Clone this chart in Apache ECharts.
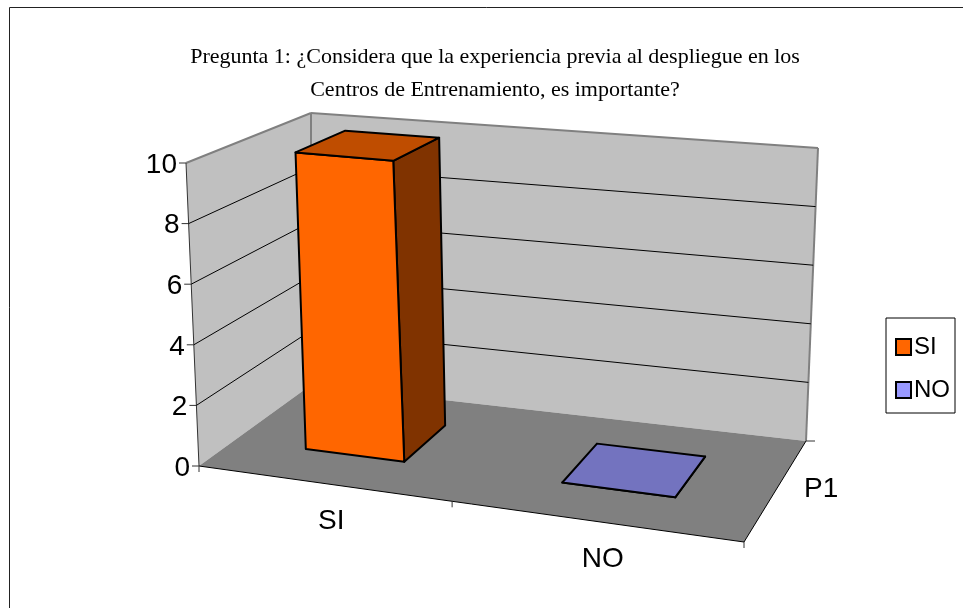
<!DOCTYPE html>
<html>
<head>
<meta charset="utf-8">
<title>Pregunta 1</title>
<style>
  html, body { margin: 0; padding: 0; background: #fff; }
  #chart { width: 963px; height: 608px; }
</style>
<script src="https://cdn.jsdelivr.net/npm/echarts@6/dist/echarts.min.js"></script>
</head>
<body>
<div id="chart"></div>
<script>
// datos
const chartTitle = 'Pregunta 1: ¿Considera que la experiencia previa al despliegue en los\nCentros de Entrenamiento, es importante?'
const categories = ['SI', 'NO']
const depthLabels = ['P1']
const siValues = [10]
const noValues = [0]
const valueTicks = [0, 2, 4, 6, 8, 10]

const labelFont = '28px "Liberation Sans"'

// esquinas de la caja 3D en pantalla: frente-izq, fondo-izq, fondo-der, frente-der
const floorCorners = [[199, 466], [311, 385], [806, 441], [744, 542]]
const topCorners = [[186, 163], [311, 113], [818, 148], [754, 217]]

// profundidad de las barras dentro de la caja
const barDepth = [0.3, 0.72]
const barShare = 0.4

// homografia del cuadrado unidad a un cuadrilatero
const quadPoint = (q, u, w) => {
  const [p0, p1, p2, p3] = [q[0], q[3], q[2], q[1]]
  const dx1 = p1[0] - p2[0]
  const dx2 = p3[0] - p2[0]
  const sx = p0[0] - p1[0] + p2[0] - p3[0]
  const dy1 = p1[1] - p2[1]
  const dy2 = p3[1] - p2[1]
  const sy = p0[1] - p1[1] + p2[1] - p3[1]
  const den = dx1 * dy2 - dx2 * dy1
  const g = (sx * dy2 - dx2 * sy) / den
  const h = (dx1 * sy - sx * dy1) / den
  const a = p1[0] - p0[0] + g * p1[0]
  const b = p3[0] - p0[0] + h * p3[0]
  const d = p1[1] - p0[1] + g * p1[1]
  const e = p3[1] - p0[1] + h * p3[1]
  const k = g * u + h * w + 1
  return [(a * u + b * w + p0[0]) / k, (d * u + e * w + p0[1]) / k]
}

// u: eje categorias, v: eje de valores, w: profundidad (todo 0..1)
const project = (u, v, w) => {
  const f = quadPoint(floorCorners, u, w)
  const t = quadPoint(topCorners, u, w)
  return [f[0] + (t[0] - f[0]) * v, f[1] + (t[1] - f[1]) * v]
}

const toUnit = (params, api, cat, value) => {
  const cs = params.coordSys
  const c = api.coord([cat, value])
  return [(c[0] - cs.x) / cs.width, (cs.y + cs.height - c[1]) / cs.height]
}

const poly = (points, style) => ({ type: 'polygon', shape: { points }, style })
const seg = (a, b, stroke, lineWidth) => ({
  type: 'line',
  shape: { x1: a[0], y1: a[1], x2: b[0], y2: b[1] },
  style: { stroke, lineWidth },
})
const label = (text, p, align) => ({
  type: 'text',
  style: { text, x: p[0], y: p[1], fill: '#000', font: labelFont, textAlign: align, textVerticalAlign: 'middle' },
})

// paredes y suelo
const renderBox = () => {
  const wallStyle = { fill: '#C0C0C0' }
  return {
    type: 'group',
    children: [
      poly([project(0, 0, 0), project(0, 1, 0), project(0, 1, 1), project(0, 0, 1)], wallStyle),
      poly([project(0, 0, 1), project(0, 1, 1), project(1, 1, 1), project(1, 0, 1)], wallStyle),
      poly([project(0, 0, 0), project(0, 0, 1), project(1, 0, 1), project(1, 0, 0)], { fill: '#808080' }),
      seg(project(0, 1, 0), project(0, 1, 1), '#808080', 2),
      seg(project(0, 1, 1), project(1, 1, 1), '#808080', 2),
      seg(project(0, 0, 1), project(0, 1, 1), '#808080', 2),
      seg(project(1, 0, 1), project(1, 1, 1), '#808080', 2),
      seg(project(0, 0, 0), project(0, 1, 0), '#333', 1),
      seg(project(0, 0, 0), project(1, 0, 0), '#000', 1),
      seg(project(1, 0, 0), project(1, 0, 1), '#000', 1),
    ],
  }
}

// lineas de division, marcas y etiquetas del eje de valores
const renderValueTick = (params, api) => {
  const tick = api.value(1)
  const v = toUnit(params, api, 0, tick)[1]
  const front = project(0, v, 0)
  const back = project(0, v, 1)
  const right = project(1, v, 1)
  const children = [seg([front[0] - 7, front[1]], front, '#333', 1)]
  if (tick > 0 && tick < valueTicks[valueTicks.length - 1]) {
    children.push(seg(front, back, '#000', 1), seg(back, right, '#000', 1))
  }
  children.push(label(String(tick), [front[0] - 9, front[1] + 2], 'right'))
  return { type: 'group', children }
}

// barra en 3D
const makeBarRender = (frontColor, topColor, sideColor) => (params, api) => {
  const [center, v] = toUnit(params, api, api.value(0), api.value(1))
  const half = (api.size([1, 0])[0] / params.coordSys.width) * barShare / 2
  const u0 = center - half
  const u1 = center + half
  const [w0, w1] = barDepth
  const edge = { stroke: '#000', lineWidth: 2, lineJoin: 'round' }
  return {
    type: 'group',
    children: [
      poly([project(u1, 0, w0), project(u1, v, w0), project(u1, v, w1), project(u1, 0, w1)], { fill: sideColor, ...edge }),
      poly([project(u0, 0, w0), project(u0, v, w0), project(u1, v, w0), project(u1, 0, w0)], { fill: frontColor, ...edge }),
      poly([project(u0, v, w0), project(u0, v, w1), project(u1, v, w1), project(u1, v, w0)], { fill: topColor, ...edge }),
    ],
  }
}

// etiquetas y marcas del eje de categorias
const renderCategory = (params, api) => {
  const idx = api.value(0)
  const u = toUnit(params, api, idx, 0)[0]
  const front = project(u, 0, 0)
  return label(categories[idx], [front[0] + 10, front[1] + 38], 'center')
}

const renderFrontTicks = (params, api) => {
  const u = api.value(0)
  const p = project(u, 0, 0)
  return seg(p, [p[0], p[1] + 6], '#333', 1)
}

const renderDepth = () => ({
  type: 'group',
  children: [
    seg(project(1, 0, 1), [project(1, 0, 1)[0] + 9, project(1, 0, 1)[1]], '#333', 1),
    label(depthLabels[0], [804, 489], 'left'),
  ],
})

const customBase = { type: 'custom', clip: false, silent: true }

const option = {
  animation: false,
  backgroundColor: '#fff',
  title: {
    text: chartTitle,
    left: 490,
    top: 36,
    textAlign: 'center',
    textStyle: { fontFamily: 'Liberation Serif', fontSize: 22, fontWeight: 'normal', color: '#000', lineHeight: 33 },
  },
  legend: {
    orient: 'vertical',
    left: 886,
    top: 318,
    padding: [17, 5, 11, 9],
    itemWidth: 15,
    itemHeight: 16,
    itemGap: 19,
    icon: 'rect',
    borderColor: '#000',
    borderWidth: 1,
    textStyle: { fontFamily: 'Liberation Sans', fontSize: 24, color: '#000', padding: [0, 0, 0, -2] },
    data: [
      { name: 'SI', itemStyle: { color: '#FF6600', borderColor: '#000', borderWidth: 2 } },
      { name: 'NO', itemStyle: { color: '#9999FF', borderColor: '#000', borderWidth: 2 } },
    ],
  },
  grid: { left: 186, top: 113, width: 632, height: 429 },
  xAxis: { type: 'category', data: categories, show: false },
  yAxis: { type: 'value', min: 0, max: 10, interval: 2, show: false },
  graphic: [
    { type: 'polyline', shape: { points: [[9.5, 608], [9.5, 7.5], [963, 7.5]] }, style: { stroke: '#222', lineWidth: 1, fill: null }, silent: true },
  ],
  series: [
    { ...customBase, name: 'caja', z: 1, data: [[0, 0]], renderItem: renderBox },
    { ...customBase, name: 'valores', z: 2, data: valueTicks.map((t) => [0, t]), renderItem: renderValueTick },
    { ...customBase, name: 'marcas', z: 2, data: [[0], [0.5], [1]], encode: { x: -1, y: -1 }, renderItem: renderFrontTicks },
    { ...customBase, name: 'categorias', z: 2, data: categories.map((c, i) => [i, 0]), renderItem: renderCategory },
    { ...customBase, name: 'profundidad', z: 2, data: [[0, 0]], renderItem: renderDepth },
    { ...customBase, name: 'SI', z: 3, data: siValues.map((v) => [0, v]), itemStyle: { color: '#FF6600' }, renderItem: makeBarRender('#FF6600', '#BF4D00', '#803300') },
    { ...customBase, name: 'NO', z: 3, data: noValues.map((v) => [1, v]), itemStyle: { color: '#9999FF' }, renderItem: makeBarRender('#9999FF', '#7373BF', '#4D4D80') },
  ],
}

const chart = echarts.init(document.getElementById('chart'), null, { renderer: 'canvas' })
chart.setOption(option)
</script>
</body>
</html>
